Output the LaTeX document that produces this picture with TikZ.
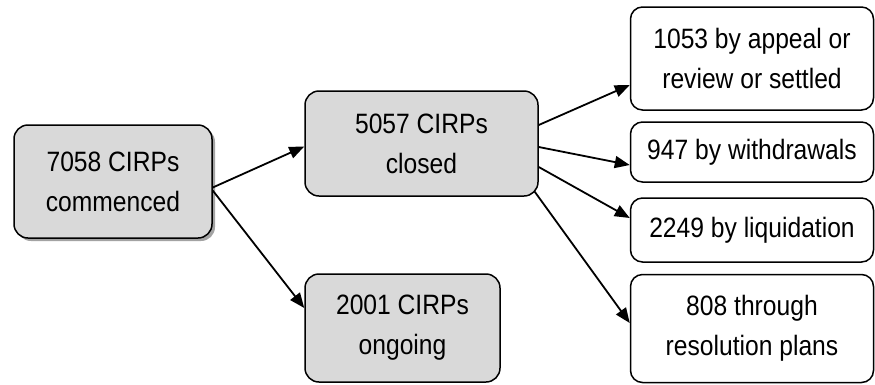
\documentclass[tikz,border=0pt]{standalone}
\usepackage{fontspec}
\setmainfont{Liberation Sans}[FakeStretch=0.88]
\usetikzlibrary{arrows.meta,shadows}
\begin{document}
\begin{tikzpicture}[x=1pt,y=-1pt,
  box/.style={draw=black, line width=1.5pt, rounded corners=14pt, align=center,
    inner sep=0pt, font=\fontsize{28}{40}\selectfont},
  graybox/.style={box, fill=black!15},
  whitebox/.style={box, fill=white, rounded corners=12pt},
  arr/.style={-{Triangle[length=15pt,width=12pt]}, line width=1.8pt}]
\useasboundingbox (0,0) rectangle (875,384);
\node[graybox, minimum width=198pt, minimum height=113pt,
  drop shadow={shadow xshift=3pt, shadow yshift=-3pt, fill=black!45, opacity=0.8}]
  (b1) at (113,181.5) {7058 CIRPs\\commenced};
\node[graybox, minimum width=233pt, minimum height=105pt] (b2) at (421.5,143.5) {5057 CIRPs\\closed};
\node[graybox, minimum width=195pt, minimum height=108pt] (b3) at (402.5,328) {2001 CIRPs\\ongoing};
\node[whitebox, minimum width=243pt, minimum height=103pt] (ra) at (752,58.5) {1053 by appeal or\\review or settled};
\node[whitebox, minimum width=243pt, minimum height=60pt] (rb) at (752,152) {947 by withdrawals};
\node[whitebox, minimum width=243pt, minimum height=64pt] (rc) at (752,230) {2249 by liquidation};
\node[whitebox, minimum width=243pt, minimum height=108pt] (rd) at (752,328.5) {808 through\\resolution plans};
\draw[arr] ([yshift=-6pt]b1.east) -- ([yshift=-3pt]b2.west);
\draw[arr] ([yshift=-9pt]b1.east) -- ([yshift=20pt]b3.west);
\draw[arr] ([yshift=18.5pt]b2.east) -- ([yshift=-26.5pt]ra.west);
\draw[arr] ([yshift=-3.5pt]b2.east) -- ([yshift=-13pt]rb.west);
\draw[arr] ([yshift=-23.5pt]b2.east) -- ([yshift=12pt]rc.west);
\draw[arr] ([xshift=-4pt,yshift=5pt]b2.south east) -- ([yshift=5.5pt]rd.west);
\end{tikzpicture}
\end{document}
